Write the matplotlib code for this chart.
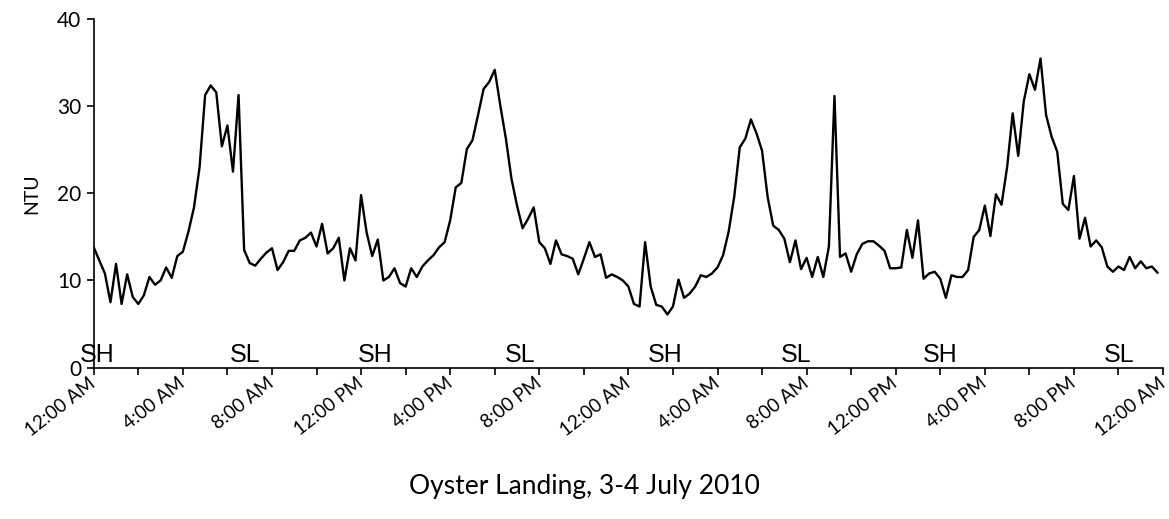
import matplotlib.pyplot as plt
import matplotlib.dates as mdates
from matplotlib.ticker import FuncFormatter
import pandas as pd

# turbidity (NTU), 15-minute readings, 3 July 2010
ntu_day1 = [13.8, 12.3, 10.8, 7.5, 11.9, 7.3, 10.7, 8.1, 7.3, 8.3, 10.4, 9.5,
            10.0, 11.5, 10.3, 12.8, 13.3, 15.6, 18.4, 23.0, 31.3, 32.4, 31.6, 25.4,
            27.8, 22.5, 31.3, 13.5, 12.0, 11.7, 12.5, 13.2, 13.7, 11.2, 12.1, 13.4,
            13.4, 14.6, 14.9, 15.5, 13.9, 16.5, 13.1, 13.7, 14.9, 10.0, 13.7, 12.3,
            19.8, 15.5, 12.8, 14.7, 10.0, 10.4, 11.4, 9.7, 9.3, 11.4, 10.4, 11.6,
            12.3, 12.9, 13.8, 14.4, 16.9, 20.7, 21.2, 25.1, 26.1, 29.0, 32.0, 32.8,
            34.2, 30.1, 26.3, 21.7, 18.6, 16.0, 17.1, 18.4, 14.4, 13.7, 11.9, 14.6,
            13.0, 12.8, 12.5, 10.7, 12.5, 14.4, 12.7, 13.0, 10.3, 10.7, 10.4, 10.0]
# 4 July 2010
ntu_day2 = [9.3, 7.3, 7.0, 14.4, 9.3, 7.2, 7.0, 6.1, 7.0, 10.1, 8.0, 8.5,
            9.3, 10.6, 10.4, 10.8, 11.5, 12.9, 15.6, 19.6, 25.3, 26.3, 28.5, 26.9,
            24.9, 19.6, 16.3, 15.8, 14.8, 12.1, 14.6, 11.3, 12.6, 10.4, 12.7, 10.4,
            13.9, 31.2, 12.7, 13.1, 11.0, 13.0, 14.2, 14.5, 14.5, 14.0, 13.4, 11.4,
            11.4, 11.5, 15.8, 12.6, 16.9, 10.2, 10.8, 11.0, 10.2, 8.0, 10.6, 10.4,
            10.4, 11.2, 15.0, 15.8, 18.6, 15.1, 19.9, 18.7, 23.0, 29.2, 24.3, 30.6,
            33.7, 31.9, 35.5, 29.0, 26.5, 24.8, 18.8, 18.1, 22.0, 14.8, 17.2, 13.9,
            14.6, 13.8, 11.6, 11.0, 11.6, 11.2, 12.7, 11.4, 12.2, 11.4, 11.6, 10.9]

# slack high / slack low tide marks (hours after midnight 3 July)
tide_labels = ["SH", "SL", "SH", "SL", "SH", "SL", "SH", "SL"]
tide_hours = [0.15, 6.8, 12.65, 19.15, 25.65, 31.55, 38.0, 46.05]

start = pd.Timestamp("2010-07-03 00:00")
ntu = ntu_day1 + ntu_day2
times = pd.date_range(start, periods=len(ntu), freq="15min")

font = "Lato"

fig = plt.figure(figsize=(11.69, 5.19), dpi=100)
ax = fig.add_axes([0.0802, 0.2919, 0.9147, 0.6709])

ax.plot(times, ntu, color="black", lw=1.7)

ax.set_xlim(start, start + pd.Timedelta(hours=48))
ax.set_ylim(0, 40)
ax.set_yticks([0, 10, 20, 30, 40])

ax.xaxis.set_major_locator(mdates.HourLocator(byhour=[0, 4, 8, 12, 16, 20]))
ax.xaxis.set_minor_locator(mdates.HourLocator(byhour=[2, 6, 10, 14, 18, 22]))


def hour_label(x, pos):
    d = mdates.num2date(x)
    h = d.hour % 12
    if h == 0:
        h = 12
    return f"{h}:00 {'AM' if d.hour < 12 else 'PM'}"


ax.xaxis.set_major_formatter(FuncFormatter(hour_label))

for s in ["top", "right"]:
    ax.spines[s].set_visible(False)
for s in ["left", "bottom"]:
    ax.spines[s].set_linewidth(1.2)

ax.tick_params(axis="both", which="both", direction="out", length=5, width=1.2)
ax.tick_params(axis="y", labelsize=15, pad=4)
ax.tick_params(axis="x", labelsize=13.5, pad=5)
for lab in ax.get_xticklabels():
    lab.set_rotation(38)
    lab.set_ha("right")
    lab.set_va("center")
    lab.set_rotation_mode("anchor")
    lab.set_fontfamily(font)
for lab in ax.get_yticklabels():
    lab.set_fontfamily(font)

ax.set_ylabel("NTU", fontsize=14, family=font, labelpad=12)

for lab, h in zip(tide_labels, tide_hours):
    ax.text(start + pd.Timedelta(hours=h), 0.05, lab, ha="center", va="bottom",
            fontsize=18, family="Liberation Sans", clip_on=False)

fig.text(0.5, 0.062, "Oyster Landing, 3-4 July 2010", ha="center", va="center",
         fontsize=19, family=font)

fig.savefig("out.png", dpi=100)
